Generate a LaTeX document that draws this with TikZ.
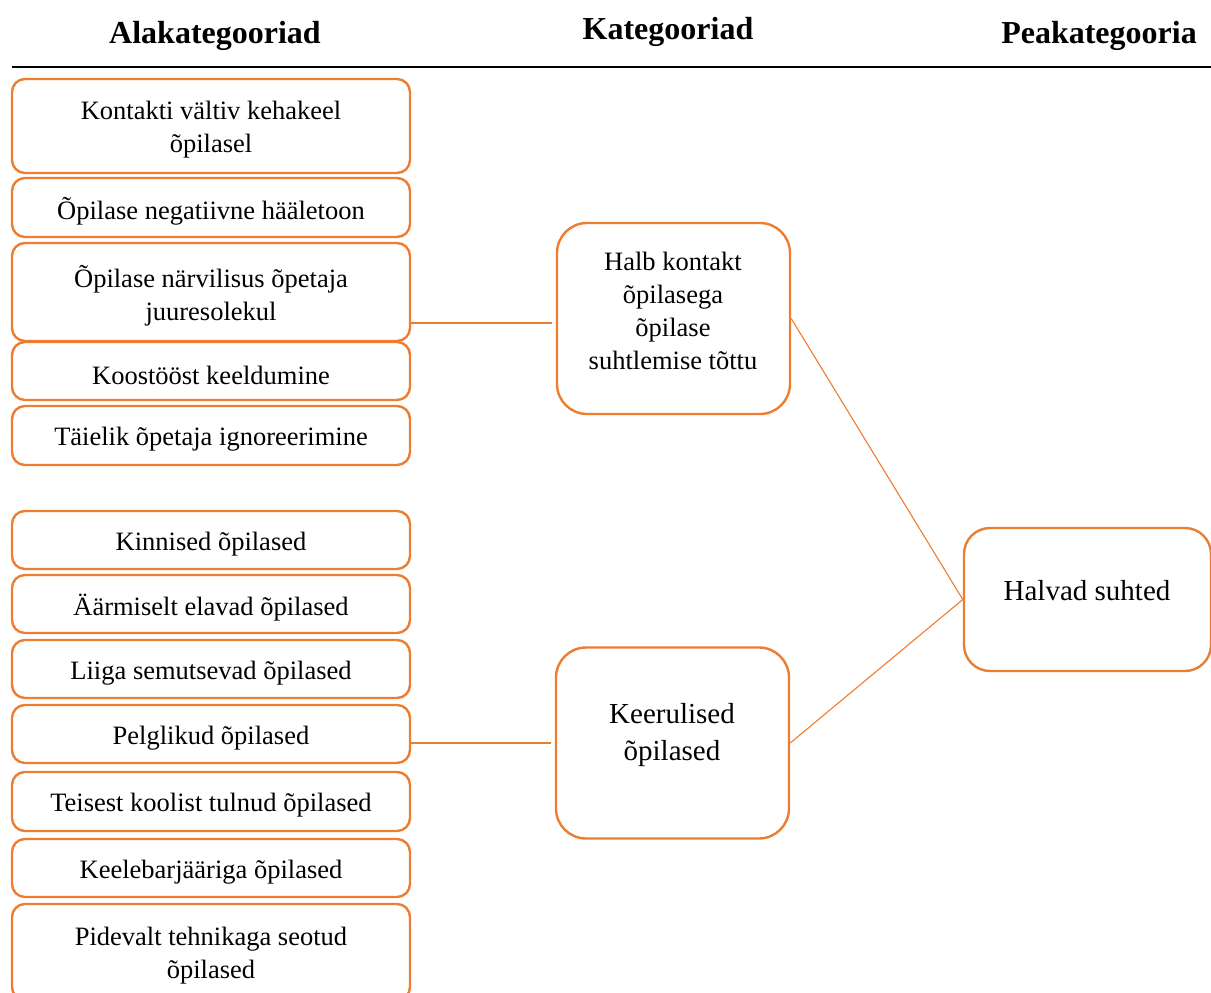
\documentclass[tikz,border=0pt]{standalone}
\usepackage{fontspec}
\setmainfont{Liberation Serif}
\definecolor{acc}{HTML}{ED7D31}
\newcommand\leftbox[4]{%
  \node[lbox,minimum height=#3pt] (#1) at (211,#2) {};
  \node[ltext] (#1t) at ([yshift=-4pt]#1.center) {#4};}
\begin{document}
\begin{tikzpicture}[x=1pt,y=-1pt,
  lbox/.style={draw=acc,line width=2.4pt,rounded corners=13pt,minimum width=398pt,inner sep=0pt},
  ltext/.style={align=center,inner sep=0pt,font=\fontsize{26.5}{33}\selectfont},
  mbox/.style={draw=acc,line width=2.4pt,rounded corners=30pt,minimum width=233pt,minimum height=191pt,inner sep=0pt},
  rbox/.style={draw=acc,line width=2.4pt,rounded corners=26pt,minimum width=247pt,minimum height=143pt,inner sep=0pt},
  mtext/.style={align=center,inner sep=0pt},
  head/.style={font=\fontsize{32}{38}\selectfont\bfseries,inner sep=0pt},
  conn/.style={draw=acc,line width=1.1pt}]
\useasboundingbox (0,0) rectangle (1211,993);
\clip (0,0) rectangle (1211,993);
\node[head] (h1) at (215,36) {Alakategooriad};
\node[head] (h2) at (668,32) {Kategooriad};
\node[head] (h3) at (1099,36) {Peakategooria};
\coordinate (la) at (12,67);
\coordinate (lb) at (1211,67);
\draw[line width=1.3pt] (la) -- (lb);

\leftbox{b1}{126}{94}{Kontakti vältiv kehakeel\\õpilasel}
\leftbox{b2}{207.5}{59}{Õpilase negatiivne hääletoon}
\leftbox{b3}{292}{98}{Õpilase närvilisus õpetaja\\juuresolekul}
\leftbox{b4}{371}{58}{Koostööst keeldumine}
\leftbox{b5}{435.5}{59}{Täielik õpetaja ignoreerimine}
\leftbox{b6}{540}{58}{Kinnised õpilased}
\leftbox{b7}{604}{58}{Äärmiselt elavad õpilased}
\leftbox{b8}{669}{58}{Liiga semutsevad õpilased}
\leftbox{b9}{734}{58}{Pelglikud õpilased}
\leftbox{b10}{801.5}{59}{Teisest koolist tulnud õpilased}
\leftbox{b11}{868}{58}{Keelebarjääriga õpilased}
\leftbox{b12}{952}{96}{Pidevalt tehnikaga seotud\\õpilased}

\node[mbox] (m1) at (673.5,318.5) {};
\node[mtext,font=\fontsize{26.5}{33}\selectfont] (t1) at (673,311) {Halb kontakt\\õpilasega\\õpilase\\suhtlemise tõttu};
\node[mbox] (m2) at (672.5,743) {};
\node[mtext,font=\fontsize{29}{37}\selectfont] (t2) at (672,735.5) {Keerulised\\õpilased};
\node[rbox] (r) at (1087.5,599.5) {};
\node[mtext,font=\fontsize{29}{37}\selectfont] (t3) at (1087,591) {Halvad suhted};

\coordinate (c1) at ([xshift=-4pt,yshift=-4.5pt]m1.west);
\coordinate (c2) at ([xshift=-4pt]m2.west);
\draw[conn] (b3.east |- c1) -- (c1);
\draw[conn] (b9.east |- c2) -- (c2);
\draw[conn] (m1.east) -- (r.west);
\draw[conn] (m2.east) -- (r.west);
\end{tikzpicture}
\end{document}
